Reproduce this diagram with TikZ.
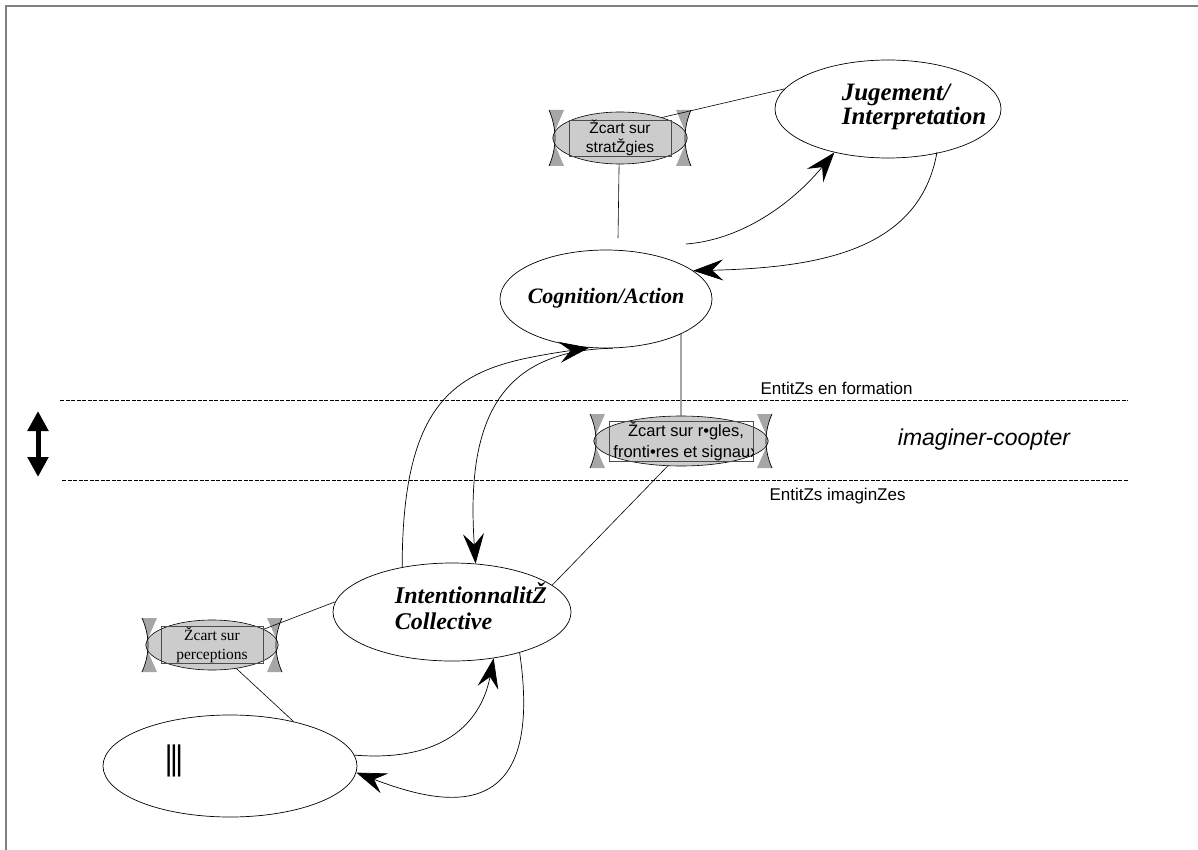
\documentclass[tikz,border=0pt]{standalone}
\usepackage{fontspec}
\setmainfont{Liberation Serif}
\setsansfont{Liberation Sans}
\usetikzlibrary{shapes.geometric,arrows.meta}

\tikzset{
  bigell/.style={draw=black, ellipse, inner sep=0pt, line width=0.7pt},
  bigtext/.style 2 args={font=\bfseries\itshape\fontsize{#1}{#2}\selectfont, align=left, inner sep=0pt},
  ecartell/.style={draw=black, fill=gray!40, ellipse, inner sep=0pt, line width=0.6pt},
  ecartwedge/.style={fill=gray!70},
  ecartrect/.style={draw=black!70, line width=0.5pt},
  ecartarc/.style={draw=black, line width=0.7pt},
  link/.style={draw=black, line width=0.6pt},
  flow/.style={draw=black, line width=0.7pt, -{Stealth[length=30pt,width=21pt,inset=11pt]}},
  band/.style={draw=black, line width=0.6pt, dash pattern=on 4pt off 1.5pt},
  bandlabel/.style={font=\sffamily\fontsize{17}{20}\selectfont, anchor=west},
}

% #1 name, #2 centre, #3/#4 half size of the arcs, #5/#6 half size of the frame, #7 text options, #8 text
\newcommand{\ecartbox}[8]{%
  \begin{scope}[shift={#2}]
    \fill[ecartwedge] (-#3,-#4) .. controls (-#3+8,-#4/3) and (-#3+8,#4/3) .. (-#3,#4)
      -- (-#3+15,#4) -- (-#3+3,0) -- (-#3+15,-#4) -- cycle;
    \fill[ecartwedge] (#3,-#4) .. controls (#3-8,-#4/3) and (#3-8,#4/3) .. (#3,#4)
      -- (#3-15,#4) -- (#3-3,0) -- (#3-15,-#4) -- cycle;
    \node[ecartell, minimum width={2*(#3-4)*1pt}, minimum height={2*(#4-2)*1pt}] (#1) at (0,0) {};
    \draw[ecartrect] (-#5,-#6) rectangle (#5,#6);
    \draw[ecartarc] (-#3,-#4) .. controls (-#3+8,-#4/3) and (-#3+8,#4/3) .. (-#3,#4);
    \draw[ecartarc] (#3,-#4) .. controls (#3-8,-#4/3) and (#3-8,#4/3) .. (#3,#4);
    \begin{scope}
      \clip (-#5,-#6) rectangle (#5,#6);
      \node[align=center, inner sep=0pt, #7] (#1text) at (0,0) {#8};
    \end{scope}
  \end{scope}}

\begin{document}
\begin{tikzpicture}[x=1pt,y=1pt]
\useasboundingbox (0,0) rectangle (1198,-850);

% Frame
\draw[gray, line width=1.5pt] (6,-850) -- (6,-6) -- (1198,-6);

% Bands
\coordinate (formL) at (60,-400);
\coordinate (formR) at (1128,-400);
\coordinate (imagL) at (62,-480);
\coordinate (imagR) at (1128,-480);
\draw[band] (formL) -- (formR);
\draw[band] (imagL) -- (imagR);
\node[bandlabel] (formlabel) at (757,-388) {EntitZs en formation};
\node[bandlabel] (imaglabel) at (766,-496) {EntitZs imaginZes};
\node[font=\sffamily\itshape\fontsize{23}{26}\selectfont] (coopter) at (984,-440) {imaginer-coopter};

% Double arrow
\coordinate (arrtop) at (38,-411);
\coordinate (arrbot) at (38,-477);
\draw[line width=5pt, {Triangle[length=20pt,width=20pt]}-{Triangle[length=20pt,width=20pt]}] (arrtop) -- (arrbot);

% Main ellipses
\node[bigell, minimum width=226pt, minimum height=98pt] (jug) at (888,-109) {};
\node[bigtext={25}{21}] (jugtext) at (914,-107) {Jugement/\\Interpretation};
\node[bigell, minimum width=212pt, minimum height=98pt] (cog) at (606,-299) {};
\node[bigtext={22}{26}] (cogtext) at (606,-298) {Cognition/Action};
\node[bigell, minimum width=238pt, minimum height=98pt] (intent) at (452,-612) {};
\node[bigtext={24}{26}] (intenttext) at (471,-606) {IntentionnalitŽ\\Collective};
\node[bigell, minimum width=254pt, minimum height=102pt] (base) at (230,-766) {};
\node[font=\sffamily\bfseries\fontsize{34}{34}\selectfont] (bars) at (174,-761) {\scalebox{0.55}[1]{|||}};

% Ecart boxes
\ecartbox{strat}{(620,-138)}{71}{28}{51}{18}{font=\sffamily\fontsize{15.5}{19}\selectfont}{Žcart sur\\stratŽgies}
\ecartbox{regles}{(681,-441)}{91}{27}{72}{20}{font=\sffamily\fontsize{16.5}{21}\selectfont, xshift=5pt}{Žcart sur r•gles,\\fronti•res et signaux}
\ecartbox{percep}{(212,-645)}{70}{27}{51}{18.5}{font=\fontsize{15.5}{19}\selectfont}{Žcart sur\\perceptions}

% Links
\coordinate (stratend) at (618,-238);
\draw[link] (strat.26) -- (jug.169);
\draw[link] (strat.-92) -- (stratend);
\draw[link] (cog.-25) -- (regles.north);
\draw[link] (regles.-118) -- (intent.15);
\draw[link] (intent.175) -- (percep.17);
\draw[link] (percep.-44) -- (base.35);

% Flows
\coordinate (cogtail) at (686,-244);
\coordinate (jugtail) at (937,-152);
\draw[flow] (cogtail) .. controls +(54,4) and +(-44,-53) .. (jug.-141);
\draw[flow] (jugtail) .. controls +(-17,-98) and +(127,3) .. (cog.18);
\draw[flow] (intent.138) .. controls +(0,187) and +(-119,-18) .. (cog.-109);
\draw[flow] (cog.-82) .. controls +(-113,-2) and +(-10,144) .. (intent.64);
\draw[flow] (base.5) .. controls +(86,-7) and +(-13,-67) .. (intent.-48);
\draw[flow] (intent.-31) .. controls +(26,-178) and +(84,-32) .. (base.-3);

\end{tikzpicture}
\end{document}
